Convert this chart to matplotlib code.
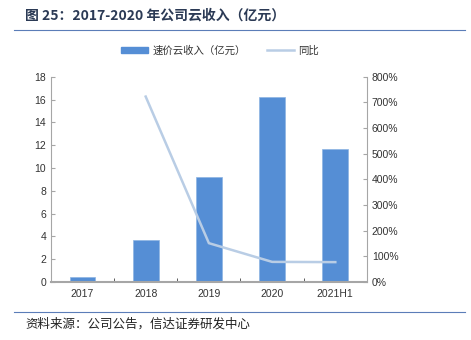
import matplotlib
matplotlib.use('Agg')
import matplotlib.pyplot as plt
import numpy as np
from matplotlib.lines import Line2D
from matplotlib.ticker import FuncFormatter, FixedLocator

plt.rcParams['font.family'] = ['Liberation Sans', 'Noto Sans CJK SC', 'DejaVu Sans']

years = ['2017', '2018', '2019', '2020', '2021H1']
revenue = [0.4, 3.7, 9.2, 16.2, 11.7]
yoy = [None, 723, 151, 78, 77]

title = '图 25：2017-2020 年公司云收入（亿元）'
source = '资料来源：公司公告，信达证券研发中心'
bar_label = '速价云收入（亿元）'
line_label = '同比'

bar_c = '#558ED5'
line_c = '#B9CDE5'
grey = '#A6A6A6'

fig = plt.figure(figsize=(4.71, 3.40), dpi=100)
ax = fig.add_axes([0.108, 0.171, 0.671, 0.603])
x = np.arange(len(years))
ax.bar(x, revenue, width=0.41, color=bar_c, edgecolor='#8DB4E2', linewidth=0.5, zorder=2)
ax.set_xlim(-0.5, len(years) - 0.5)
ax.set_ylim(0, 18)
ax.set_yticks(range(0, 19, 2))
ax.set_xticks(x)
ax.set_xticklabels(years, fontsize=7.5)
ax.xaxis.set_minor_locator(FixedLocator(np.arange(0.5, len(years) - 0.5, 1)))
ax.tick_params(axis='x', which='major', length=0, pad=5, colors='#333333')
ax.tick_params(axis='x', which='minor', length=3, direction='in', color='#404040')
ax.tick_params(axis='y', direction='in', length=3, labelsize=7.5, colors='#333333', color=grey)
for s in ['top', 'right']:
    ax.spines[s].set_visible(False)
ax.spines['left'].set_color(grey)
ax.spines['bottom'].set_color(grey)
ax.spines['bottom'].set_linewidth(1.5)

ax2 = ax.twinx()
lx = [i for i, v in enumerate(yoy) if v is not None]
ly = [v for v in yoy if v is not None]
ax2.plot(lx, ly, color=line_c, linewidth=1.8, zorder=3)
ax2.set_ylim(0, 800)
ax2.set_yticks(range(0, 801, 100))
ax2.yaxis.set_major_formatter(FuncFormatter(lambda v, p: f'{int(v)}%'))
ax2.tick_params(axis='y', direction='in', length=3, labelsize=7.5, colors='#333333', color=grey)
for s in ['top', 'left', 'bottom']:
    ax2.spines[s].set_visible(False)
ax2.spines['right'].set_color(grey)

cjk = ['Noto Sans CJK SC', 'DejaVu Sans']
fig.text(0.053, 0.955, title, fontsize=10, fontweight='bold', color='#2B3A55',
         va='center', family=cjk)
fig.add_artist(Line2D([0.03, 0.987], [0.912, 0.912], color='#5B7DB8', linewidth=0.8))
fig.add_artist(Line2D([0.03, 0.987], [0.082, 0.082], color='#5B7DB8', linewidth=0.8))
fig.text(0.053, 0.048, source, fontsize=9, style='italic', color='#222222',
         va='center', family=cjk)

handles = [plt.Rectangle((0, 0), 1, 1, color=bar_c),
           Line2D([0], [0], color=line_c, linewidth=1.8)]
leg = fig.legend(handles, [bar_label, line_label], loc='center', bbox_to_anchor=(0.467, 0.852),
                 ncol=2, frameon=False, handlelength=2.6, handleheight=0.5, handletextpad=0.4,
                 columnspacing=2.0, prop={'family': cjk, 'size': 7.5})
for t in leg.get_texts():
    t.set_color('#333333')

fig.savefig('out.png', dpi=100)
